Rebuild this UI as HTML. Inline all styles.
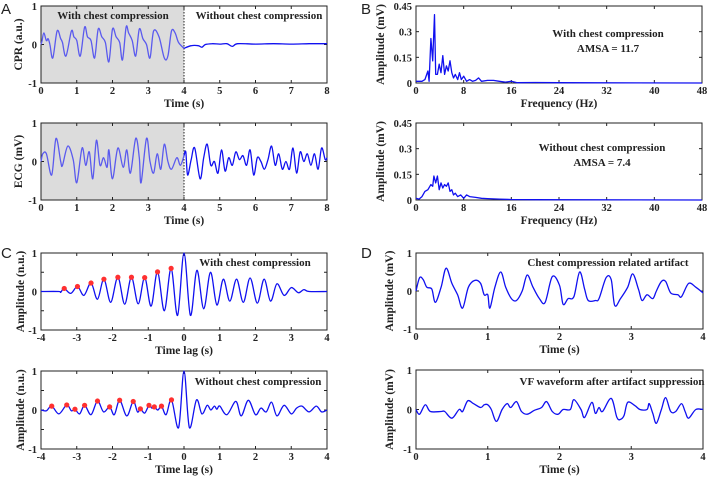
<!DOCTYPE html>
<html><head><meta charset="utf-8">
<style>
html,body{margin:0;padding:0;background:#fff;}
svg{display:block;font-family:"Liberation Serif",serif;}
.tk{font-size:10.5px;font-weight:bold;fill:#222;}
.ttl{font-size:11.5px;font-weight:bold;fill:#222;}
.ann{font-size:11px;font-weight:bold;fill:#222;}
.let{font-family:"Liberation Sans",sans-serif;font-size:15px;fill:#222;}
</style></head>
<body>
<svg id="fig" width="708" height="482" viewBox="0 0 708 482" xmlns="http://www.w3.org/2000/svg"></svg>
<script>
// ---- data ----
const cprWithT=[0,0.03,0.08,0.15,0.2,0.25,0.33,0.45,0.55,0.6,0.7,0.85,0.92,1.0,1.1,1.22,1.3,1.4,1.5,1.6,1.7,1.8,1.9,2.0,2.1,2.2,2.28,2.38,2.45,2.55,2.65,2.75,2.85,2.95,3.05,3.15,3.3,3.45,3.55,3.65,3.75,3.85,4.0];
const cprWithV=[0,0.1,0.3,0.1,0.15,0,-0.35,0.35,0.15,0.05,-0.3,0.35,0.2,0.1,-0.3,0.45,0.2,0.1,-0.35,0.4,0.2,0.05,-0.45,0.4,0.2,0.05,-0.4,0.45,0.3,0.1,-0.3,0.4,0.15,0,-0.35,0.35,0.2,-0.35,-0.3,0.35,0.3,0.05,-0.1];
const cprWoT=[4.0,4.2,4.4,4.5,4.6,4.8,5.0,5.2,5.35,5.5,6,6.5,7,7.5,8];
const cprWoV=[-0.1,-0.03,-0.03,-0.07,0,0.02,0.01,0.02,-0.05,0.02,0.01,0.02,0.01,0.02,0.02];
const ecgWithT=[0,0.05,0.15,0.3,0.42,0.55,0.6,0.75,0.9,1.0,1.15,1.25,1.35,1.45,1.55,1.65,1.75,1.85,1.9,2.0,2.15,2.3,2.4,2.5,2.65,2.75,2.8,2.95,3.05,3.15,3.25,3.35,3.45,3.55,3.65,3.8,3.9,4.0];
const ecgWithV=[0,0.2,0.2,-0.35,0.6,0,-0.1,0.4,0.05,-0.55,0.35,-0.1,0.25,-0.45,0.55,-0.1,0.1,-0.15,0.3,-0.45,0.35,-0.15,0.3,-0.3,0.6,0.1,-0.55,0.6,0,-0.3,0.2,-0.2,0.45,0,-0.2,0.1,-0.1,0.15];
const ecgWoT=[4.0,4.05,4.1,4.2,4.3,4.45,4.55,4.65,4.75,4.85,4.95,5.05,5.15,5.25,5.35,5.45,5.55,5.65,5.75,5.85,5.95,6.05,6.15,6.25,6.35,6.45,6.55,6.65,6.75,6.85,6.95,7.05,7.15,7.25,7.35,7.45,7.55,7.65,7.75,7.85,7.95,8.0];
const ecgWoV=[0.15,0.25,-0.35,0.05,0.35,-0.45,0.1,0.45,-0.1,0.0,-0.3,0.3,-0.25,0.1,-0.1,0.25,0.05,0.15,-0.1,0.3,-0.35,0.1,0.0,-0.2,0.05,0.4,-0.1,0.2,-0.2,0.0,-0.2,0.35,-0.3,0.25,0.0,0.2,-0.1,0.2,-0.2,0.35,0.05,0.1];
const specWithF=[0,1,1.5,2,2.2,2.5,2.8,3.1,3.3,3.6,3.9,4.2,4.5,4.8,5.1,5.4,5.7,6,6.3,6.6,7,7.3,7.6,8,8.5,9,9.5,10,10.5,11,12,13,14,15,16,17,20,24,48];
const specWithA=[0.01,0.01,0.02,0.07,0.01,0.26,0.13,0.4,0.05,0.05,0.11,0.06,0.16,0.05,0.1,0.07,0.13,0.06,0.03,0.05,0.02,0.06,0.02,0.04,0.01,0.02,0.01,0.015,0.03,0.01,0.015,0.015,0.01,0.005,0.01,0.002,0.003,0.002,0];
const specWoF=[0,0.5,1,1.5,2,2.5,2.8,3,3.3,3.6,3.9,4.2,4.5,4.8,5.1,5.4,5.7,6,6.3,6.6,7,7.5,8,8.5,9,10,11,12,14,16,20,48];
const specWoA=[0.01,0.005,0.02,0.05,0.06,0.09,0.08,0.14,0.1,0.14,0.06,0.1,0.07,0.09,0.08,0.1,0.05,0.06,0.03,0.04,0.02,0.03,0.01,0.03,0.02,0.015,0.01,0.008,0.005,0.003,0.002,0];
const acWithT=[-4,-3.5,-3.45,-3.35,-3.17,-2.98,-2.8,-2.6,-2.42,-2.24,-2.05,-1.85,-1.66,-1.47,-1.28,-1.1,-0.92,-0.74,-0.55,-0.36,-0.18,0,0.18,0.36,0.55,0.74,0.92,1.1,1.28,1.47,1.66,1.85,2.05,2.24,2.42,2.6,2.8,3.0,3.2,3.35,3.5,4];
const acWithV=[0,0,-0.02,0.08,-0.05,0.13,-0.1,0.22,-0.2,0.32,-0.28,0.37,-0.33,0.37,-0.32,0.36,-0.38,0.51,-0.5,0.6,-0.62,1.0,-0.62,0.55,-0.45,0.5,-0.35,0.32,-0.25,0.32,-0.28,0.35,-0.3,0.32,-0.25,0.2,-0.1,0.1,-0.03,0.05,0,0];
const acWithPeakT=[-3.35,-2.98,-2.6,-2.24,-1.85,-1.47,-1.1,-0.74,-0.36];
const acWithPeakV=[0.08,0.13,0.22,0.32,0.37,0.37,0.36,0.51,0.6];
const acWoT=[-4,-3.85,-3.7,-3.5,-3.28,-3.15,-3.05,-2.92,-2.78,-2.6,-2.42,-2.25,-2.08,-1.95,-1.8,-1.6,-1.42,-1.3,-1.22,-1.1,-0.98,-0.9,-0.83,-0.73,-0.63,-0.5,-0.35,-0.15,0,0.15,0.35,0.5,0.65,0.75,0.85,0.92,1.0,1.2,1.45,1.6,1.8,2.0,2.15,2.3,2.45,2.6,2.8,3.0,3.15,3.3,3.5,3.7,3.85,4];
const acWoV=[0,-0.02,0.1,-0.1,0.13,-0.02,0.02,-0.1,0.12,-0.12,0.23,-0.05,0.08,-0.12,0.25,-0.15,0.22,-0.05,0.03,-0.08,0.12,0.05,0.08,0,0.1,-0.12,0.26,-0.45,1.0,-0.45,0.26,-0.1,0.12,0,0.1,0.02,0.1,-0.12,0.22,-0.15,0.25,-0.12,0.05,-0.05,0.2,-0.15,0.12,-0.1,0.05,0.1,-0.05,0.1,-0.05,0];
const acWoPeakT=[-3.7,-3.28,-3.05,-2.78,-2.42,-2.08,-1.8,-1.42,-1.22,-0.98,-0.83,-0.63,-0.35];
const acWoPeakV=[0.1,0.13,0.02,0.12,0.23,0.08,0.25,0.22,0.03,0.12,0.08,0.1,0.26];
const artT=[0,0.05,0.1,0.15,0.22,0.27,0.35,0.42,0.5,0.58,0.65,0.73,0.82,0.9,0.95,1.0,1.03,1.1,1.18,1.25,1.33,1.4,1.48,1.55,1.63,1.72,1.8,1.9,2.0,2.05,2.12,2.2,2.28,2.35,2.4,2.5,2.55,2.65,2.72,2.77,2.85,2.95,3.02,3.1,3.15,3.22,3.3,3.35,3.42,3.48,3.55,3.65,3.7,3.8,3.9,4.0];
const artV=[0,0.35,0.3,0.1,0.05,-0.3,0.1,0.6,0.2,-0.1,-0.45,0.1,0.28,0.2,-0.1,-0.1,-0.45,0.1,0.5,0.1,-0.2,-0.25,0,0.42,0.1,-0.2,-0.3,0.38,0.15,-0.35,-0.2,-0.15,0.5,0.05,-0.25,-0.25,-0.2,0.35,0.3,-0.38,-0.2,0.1,0.45,0.05,-0.25,-0.1,-0.2,0,0.25,0.25,-0.05,-0.1,-0.15,0.2,0.1,-0.05];
const vfT=[0,0.05,0.13,0.2,0.35,0.4,0.5,0.6,0.65,0.72,0.8,0.9,0.95,1.0,1.05,1.12,1.2,1.27,1.32,1.4,1.47,1.55,1.65,1.75,1.82,1.9,1.98,2.05,2.15,2.2,2.3,2.35,2.45,2.5,2.55,2.6,2.72,2.8,2.85,2.9,2.95,3.05,3.12,3.22,3.25,3.3,3.35,3.42,3.48,3.55,3.62,3.7,3.75,3.8,3.9,4.0];
const vfV=[0,-0.12,0.12,-0.05,-0.05,-0.05,-0.22,0,-0.05,0.22,0.15,0.05,0.12,0.12,0,-0.3,0,0.15,0.05,0.2,-0.05,-0.12,-0.02,0.05,0.2,-0.05,-0.12,0,0,0.25,0,-0.2,0.18,-0.1,0.05,-0.05,0.28,-0.2,-0.25,-0.15,0.18,0.1,0,0,0.15,-0.1,-0.35,0,0.3,-0.05,-0.05,0.15,-0.05,-0.22,0,0];
const ticksA=[0,1,2,3,4,5,6,7,8];
const ticksB=[0,8,16,24,32,40,48];
const ticksBy=[0,0.15,0.3,0.45];
const ticksC=[-4,-3,-2,-1,0,1,2,3,4];
const ticksD=[0,1,2,3,4];
const ticksPM=[-1,0,1];

const NS="http://www.w3.org/2000/svg";
const svg=document.getElementById('fig');
function mk(tag,attrs,parent){const e=document.createElementNS(NS,tag);for(const k in attrs)e.setAttribute(k,attrs[k]);(parent||svg).appendChild(e);return e;}
function txt(x,y,s,cls,anchor,parent,rot){const e=mk('text',{x:x,y:y,class:cls,'text-anchor':anchor||'middle'},parent);if(rot)e.setAttribute('transform','rotate(-90 '+x+' '+y+')');e.textContent=s;return e;}

function axes(cfg){
  const g=mk('g',{});
  
  
  const sx=v=>cfg.x0+(v-cfg.xmin)/(cfg.xmax-cfg.xmin)*(cfg.x1-cfg.x0);
  const sy=v=>cfg.y1-(v-cfg.ymin)/(cfg.ymax-cfg.ymin)*(cfg.y1-cfg.y0);
  cfg.sx=sx;cfg.sy=sy;cfg.g=g;
  if(cfg.shade!==undefined){
    const r=mk('rect',{x:cfg.x0,y:cfg.y0,width:sx(cfg.shade)-cfg.x0,height:cfg.y1-cfg.y0,fill:'#dcdcdc'},g);
    
    
    mk('line',{x1:sx(cfg.shade),x2:sx(cfg.shade),y1:cfg.y0,y2:cfg.y1,stroke:'#222','stroke-width':1,'stroke-dasharray':'1.5,1.5'},g);
  }
  cfg.xt.forEach(v=>{const x=sx(v);
    mk('line',{x1:x,x2:x,y1:cfg.y1,y2:cfg.y1-3,stroke:'#222'},g);
    mk('line',{x1:x,x2:x,y1:cfg.y0,y2:cfg.y0+3,stroke:'#222'},g);
    const t=txt(x,cfg.y1+11,String(v),'tk','middle',g);
    
    
  });
  cfg.yt.forEach(v=>{const y=sy(v);
    mk('line',{x1:cfg.x0,x2:cfg.x0+3,y1:y,y2:y,stroke:'#222'},g);
    mk('line',{x1:cfg.x1,x2:cfg.x1-3,y1:y,y2:y,stroke:'#222'},g);
    const t=txt(cfg.x0-4,y+4,String(v),'tk','end',g);
    
    
  });
  (cfg.ym||[]).forEach(v=>{const y=sy(v);
    mk('line',{x1:cfg.x0,x2:cfg.x0+3,y1:y,y2:y,stroke:'#222'},g);
    mk('line',{x1:cfg.x1,x2:cfg.x1-3,y1:y,y2:y,stroke:'#222'},g);});
  const fr=mk('rect',{x:cfg.x0,y:cfg.y0,width:cfg.x1-cfg.x0,height:cfg.y1-cfg.y0,fill:'none',stroke:'#222','stroke-width':1},g);
  
  
  const xl=txt((cfg.x0+cfg.x1)/2,cfg.y1+24,cfg.xlabel,'ttl','middle',g);
  
  
  const yl=txt(cfg.ylx,(cfg.y0+cfg.y1)/2,cfg.ylabel,'ttl','middle',g,true);
  
  
  return cfg;
}
function smoothPath(ax,T,V){
  const p=T.map((t,i)=>[ax.sx(t),ax.sy(V[i])]);
  let d='M'+p[0][0].toFixed(1)+','+p[0][1].toFixed(1);
  for(let i=0;i<p.length-1;i++){
    const p0=p[i-1]||p[i],p1=p[i],p2=p[i+1],p3=p[i+2]||p[i+1];
    const c1=[p1[0]+(p2[0]-p0[0])/6,p1[1]+(p2[1]-p0[1])/6];
    const c2=[p2[0]-(p3[0]-p1[0])/6,p2[1]-(p3[1]-p1[1])/6];
    d+='C'+c1[0].toFixed(1)+','+c1[1].toFixed(1)+' '+c2[0].toFixed(1)+','+c2[1].toFixed(1)+' '+p2[0].toFixed(1)+','+p2[1].toFixed(1);
  }
  return d;
}
function linePath(ax,T,V){return T.map((t,i)=>(i?'L':'M')+ax.sx(t).toFixed(1)+','+ax.sy(V[i]).toFixed(1)).join('');}
function series(ax,d,color,name){
  const e=mk('path',{d:d,fill:'none',stroke:color,'stroke-width':1.3,'stroke-linejoin':'round'},ax.g);
  
  
}
function markers(ax,T,V){
  T.forEach((t,i)=>{
    const c=mk('circle',{cx:ax.sx(t),cy:ax.sy(V[i]),r:2.6,fill:'#ff3030'},ax.g);
    
    
  });
}
function note(ax,x,y,s){const t=txt(x,y,s,'ann','middle',ax.g);}
function letter(x,y,s){const t=txt(x,y,s,'let','start');}

// Panel A
letter(1,14,'A');
const a1=axes({name:'cpr-chart',x0:41,x1:327,y0:6,y1:83,xmin:0,xmax:8,ymin:-1,ymax:1,xt:ticksA,yt:ticksPM,xlabel:'Time (s)',ylabel:'CPR (a.u.)',ylx:22,shade:4});
series(a1,smoothPath(a1,cprWithT,cprWithV),'#5a5aee','cpr-with-compression-line');
series(a1,smoothPath(a1,cprWoT,cprWoV),'#1010f0','cpr-without-compression-line');
note(a1,113,19,'With chest compression');note(a1,259,19,'Without chest compression');
const a2=axes({name:'ecg-chart',x0:41,x1:327,y0:123,y1:200,xmin:0,xmax:8,ymin:-1,ymax:1,xt:ticksA,yt:ticksPM,xlabel:'Time (s)',ylabel:'ECG (mV)',ylx:22,shade:4});
series(a2,smoothPath(a2,ecgWithT,ecgWithV),'#5a5aee','ecg-with-compression-line');
series(a2,smoothPath(a2,ecgWoT,ecgWoV),'#1010f0','ecg-without-compression-line');

// Panel B
letter(361,14,'B');
const b1=axes({name:'spectrum-with-chart',x0:416,x1:702,y0:6,y1:83,xmin:0,xmax:48,ymin:0,ymax:0.45,xt:ticksB,yt:ticksBy,xlabel:'Frequency (Hz)',ylabel:'Amplitude (mV)',ylx:384});
series(b1,linePath(b1,specWithF,specWithA),'#1010f0','spectrum-with-compression-line');
note(b1,608,37,'With chest compression');note(b1,608,52,'AMSA = 11.7');
const b2=axes({name:'spectrum-without-chart',x0:416,x1:702,y0:123,y1:200,xmin:0,xmax:48,ymin:0,ymax:0.45,xt:ticksB,yt:ticksBy,xlabel:'Frequency (Hz)',ylabel:'Amplitude (mV)',ylx:384});
series(b2,linePath(b2,specWoF,specWoA),'#1010f0','spectrum-without-compression-line');
note(b2,602,151,'Without chest compression');note(b2,602,166,'AMSA = 7.4');

// Panel C
letter(1,258,'C');
const c1=axes({name:'autocorr-with-chart',x0:41,x1:327,y0:253,y1:330,xmin:-4,xmax:4,ymin:-1,ymax:1,xt:ticksC,yt:ticksPM,ym:[-0.5,0.5],xlabel:'Time lag (s)',ylabel:'Amplitude (n.u.)',ylx:24});
series(c1,smoothPath(c1,acWithT,acWithV),'#1010f0','autocorr-with-line');
markers(c1,acWithPeakT,acWithPeakV);
note(c1,255,266,'With chest compression');
const c2=axes({name:'autocorr-without-chart',x0:41,x1:327,y0:371,y1:449,xmin:-4,xmax:4,ymin:-1,ymax:1,xt:ticksC,yt:ticksPM,ym:[-0.5,0.5],xlabel:'Time lag (s)',ylabel:'Amplitude (n.u.)',ylx:24});
series(c2,smoothPath(c2,acWoT,acWoV),'#1010f0','autocorr-without-line');
markers(c2,acWoPeakT,acWoPeakV);
note(c2,258,385,'Without chest compression');

// Panel D
letter(361,258,'D');
const d1=axes({name:'artifact-chart',x0:416,x1:703,y0:253,y1:329,xmin:0,xmax:4,ymin:-1,ymax:1,xt:ticksD,yt:ticksPM,xlabel:'Time (s)',ylabel:'Amplitude (mV)',ylx:393});
series(d1,smoothPath(d1,artT,artV),'#1010f0','artifact-line');
note(d1,608,266,'Chest compression related artifact');
const d2=axes({name:'vf-waveform-chart',x0:416,x1:703,y0:370,y1:449,xmin:0,xmax:4,ymin:-1,ymax:1,xt:ticksD,yt:ticksPM,xlabel:'Time (s)',ylabel:'Amplitude (mV)',ylx:393});
series(d2,smoothPath(d2,vfT,vfV),'#1010f0','vf-waveform-line');
note(d2,612,385,'VF waveform after artifact suppression');
</script>
</body></html>
